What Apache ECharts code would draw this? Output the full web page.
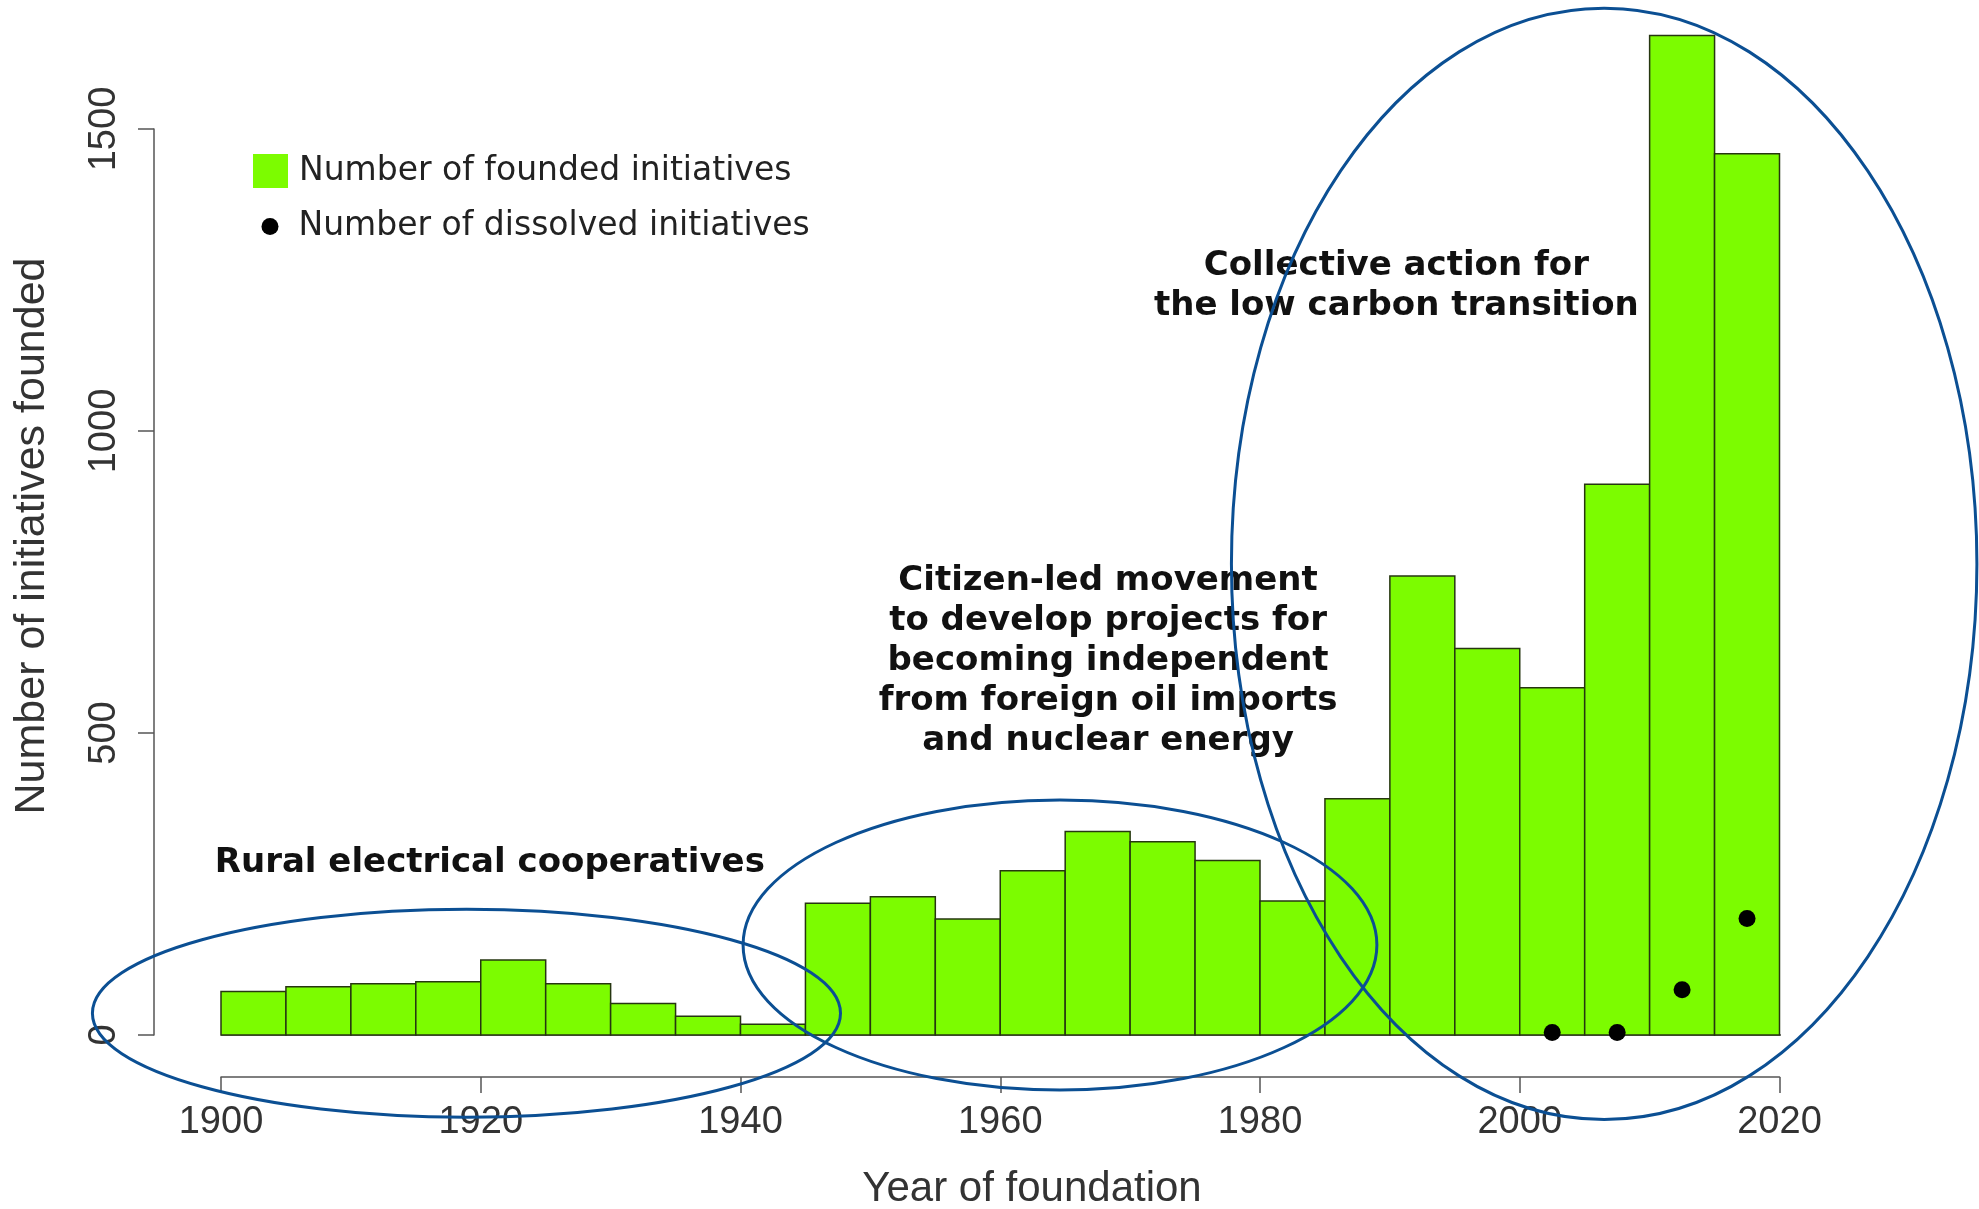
<!DOCTYPE html>
<html>
<head>
<meta charset="utf-8">
<title>Founded and dissolved initiatives</title>
<script src="https://cdn.jsdelivr.net/npm/echarts@6/dist/echarts.min.js"></script>
<style>
  html, body { margin: 0; padding: 0; background: #fff; }
  #chart { width: 1979px; height: 1209px; }
</style>
</head>
<body>
<div id="chart"></div>
<script>
// 5-year bins, start year of each bin
const binStart = [1900, 1905, 1910, 1915, 1920, 1925, 1930, 1935, 1940, 1945, 1950, 1955,
  1960, 1965, 1970, 1975, 1980, 1985, 1990, 1995, 2000, 2005, 2010, 2015];
const founded = [72, 80, 85, 88, 124, 85, 52, 31, 18, 218, 229, 192,
  272, 337, 320, 289, 222, 391, 760, 640, 575, 912, 1655, 1459];

// dissolved initiatives, plotted at bin centres
const dissolvedYear = [2002.5, 2007.5, 2012.5, 2017.5];
const dissolved = [4, 4, 75, 193];

const xTicks = [1900, 1920, 1940, 1960, 1980, 2000, 2020];
const yTicks = [0, 500, 1000, 1500];

// annotation groups (in data units: year, count)
const groupNotes = [
  { text: "Rural electrical cooperatives", x: 1920.7, y: 284 },
  { text: "Citizen-led movement\nto develop projects for\nbecoming independent\nfrom foreign oil imports\nand nuclear energy", x: 1968.3, y: 619 },
  { text: "Collective action for\nthe low carbon transition", x: 1990.5, y: 1240 }
];
const groupEllipses = [
  { x: 1918.9, y: 36, rx: 28.8, ry: 172 },
  { x: 1964.6, y: 149, rx: 24.4, ry: 240 },
  { x: 2006.5, y: 780, rx: 28.7, ry: 920 }
];

const FOUNDED = "Number of founded initiatives";
const DISSOLVED = "Number of dissolved initiatives";
const green = "#7CFC00";
const axisGrey = "#555";

const chart = echarts.init(document.getElementById("chart"));

const option = {
  backgroundColor: "#fff",
  animation: false,
  grid: { left: 221, right: 199.5, top: 129, bottom: 174 },
  legend: [
    {
      data: [{ name: FOUNDED, icon: "rect", itemStyle: { color: green, borderWidth: 0 } }],
      left: 248, top: 149,
      itemWidth: 35, itemHeight: 34,
      textStyle: { fontFamily: "DejaVu Sans", fontSize: 33, color: "#222", padding: [0, 0, 0, 6] },
      selectedMode: false
    },
    {
      data: [{ name: DISSOLVED, icon: "circle", itemStyle: { color: "#000" } }],
      left: 256.5, top: 205,
      itemWidth: 17, itemHeight: 17,
      textStyle: { fontFamily: "DejaVu Sans", fontSize: 33, color: "#222", padding: [0, 0, 0, 15] },
      selectedMode: false
    }
  ],
  xAxis: {
    type: "value",
    min: 1900, max: 2020, interval: 20,
    offset: 42,
    splitLine: { show: false },
    axisLine: { show: true, onZero: false, lineStyle: { color: axisGrey, width: 1.5 } },
    axisTick: { show: true, length: 16, lineStyle: { color: axisGrey, width: 1.5 } },
    axisLabel: {
      margin: 27, fontSize: 38, color: "#333", fontFamily: "Liberation Sans",
      customValues: xTicks,
      formatter: function (v) { return String(v); }
    }
  },
  yAxis: {
    type: "value",
    min: 0, max: 1500, interval: 500,
    offset: 67,
    splitLine: { show: false },
    axisLine: { show: true, onZero: false, lineStyle: { color: axisGrey, width: 1.5 } },
    axisTick: { show: true, length: 16, lineStyle: { color: axisGrey, width: 1.5 } },
    axisLabel: {
      rotate: 90, margin: 30, fontSize: 38, color: "#333", fontFamily: "Liberation Sans",
      customValues: yTicks,
      formatter: function (v) { return String(v); }
    }
  },
  series: [
    {
      name: "baseline",
      type: "line",
      data: [[1900, 0], [2025, 0]],
      symbol: "none",
      clip: false,
      silent: true,
      lineStyle: { color: axisGrey, width: 1.5 },
      z: 1
    },
    {
      name: FOUNDED,
      type: "custom",
      itemStyle: { color: green },
      encode: { x: [0, 1], y: 2 },
      data: binStart.map((s, i) => [s, s + 5, founded[i]]),
      renderItem: function (params, api) {
        const p0 = api.coord([api.value(0), 0]);
        const p1 = api.coord([api.value(1), api.value(2)]);
        return {
          type: "rect",
          shape: { x: p0[0], y: p1[1], width: p1[0] - p0[0], height: p0[1] - p1[1] },
          style: { fill: green, stroke: "#263610", lineWidth: 1.5 }
        };
      },
      z: 2
    },
    {
      name: DISSOLVED,
      type: "scatter",
      symbol: "circle",
      symbolSize: 17,
      itemStyle: { color: "#000", opacity: 1 },
      data: dissolvedYear.map((y, i) => [y, dissolved[i]]),
      z: 3
    }
  ]
};

chart.setOption(option);

// annotations and circled groups, placed through the axes
function px(x, y) {
  return chart.convertToPixel({ gridIndex: 0 }, [x, y]);
}
const elements = [];
groupNotes.forEach(function (n) {
  const p = px(n.x, n.y);
  elements.push({
    type: "text", x: p[0], y: p[1], z: 10,
    style: {
      text: n.text, fontFamily: "DejaVu Sans", fontWeight: "bold", fontSize: 34,
      lineHeight: 40, fill: "#111", align: "center", verticalAlign: "middle"
    }
  });
});
groupEllipses.forEach(function (e) {
  const c = px(e.x, e.y);
  const edge = px(e.x + e.rx, e.y + e.ry);
  elements.push({
    type: "ellipse", z: 20, silent: true,
    shape: { cx: c[0], cy: c[1], rx: edge[0] - c[0], ry: c[1] - edge[1] },
    style: { fill: null, stroke: "#0b4f93", lineWidth: 3 }
  });
});
elements.push({
  type: "text", x: 1032, y: 1189, z: 10,
  style: { text: "Year of foundation", fontFamily: "Liberation Sans", fontSize: 42, fill: "#333", align: "center", verticalAlign: "middle" }
});
elements.push({
  type: "text", x: 32, y: 536, rotation: Math.PI / 2, z: 10,
  style: { text: "Number of initiatives founded", fontFamily: "Liberation Sans", fontSize: 43, fill: "#333", align: "center", verticalAlign: "middle" }
});
chart.setOption({ graphic: { elements: elements } });
</script>
</body>
</html>
